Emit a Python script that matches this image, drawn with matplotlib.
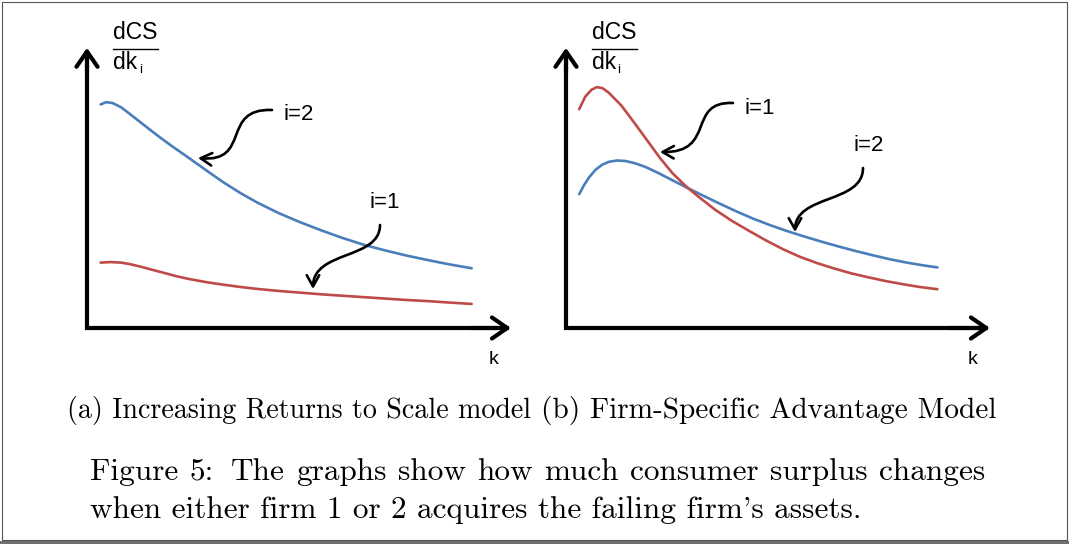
import matplotlib
matplotlib.use("Agg")
import matplotlib.pyplot as plt
from matplotlib.path import Path
from matplotlib.patches import FancyArrowPatch, Rectangle
from matplotlib.lines import Line2D

# ---------------- data ----------------
# Panel (a): Increasing Returns to Scale model
a_i2_k = [0.32, 0.45, 0.60, 0.80, 1.00, 1.22, 1.45, 1.70, 2.00, 2.40, 2.80, 3.20,
          3.60, 4.00, 4.50, 5.00, 5.50, 6.00, 6.50, 7.00, 7.50, 8.00, 8.50, 9.03]
a_i2_v = [7.90, 7.98, 7.95, 7.80, 7.57, 7.31, 7.04, 6.75, 6.42, 6.00, 5.57, 5.15,
          4.77, 4.43, 4.06, 3.74, 3.45, 3.18, 2.94, 2.74, 2.56, 2.40, 2.25, 2.11]
a_i1_k = [0.32, 0.55, 0.80, 1.00, 1.25, 1.50, 1.80, 2.10, 2.40, 2.80, 3.20, 3.60,
          4.00, 4.50, 5.00, 5.50, 6.00, 6.50, 7.00, 7.50, 8.00, 8.50, 9.03]
a_i1_v = [2.31, 2.33, 2.31, 2.26, 2.17, 2.07, 1.95, 1.83, 1.73, 1.62, 1.53, 1.45,
          1.38, 1.31, 1.25, 1.19, 1.14, 1.09, 1.04, 0.99, 0.95, 0.90, 0.85]

# Panel (b): Firm-Specific Advantage Model
b_i1_k = [0.31, 0.45, 0.60, 0.72, 0.85, 1.00, 1.30, 1.60, 1.90, 2.20, 2.50, 2.80,
          3.10, 3.50, 3.90, 4.30, 4.70, 5.10, 5.50, 5.90, 6.30, 6.70, 7.10, 7.50,
          7.90, 8.30, 8.72]
b_i1_v = [7.73, 8.17, 8.42, 8.51, 8.48, 8.32, 7.86, 7.26, 6.64, 6.02, 5.47, 5.03,
          4.65, 4.18, 3.78, 3.43, 3.09, 2.78, 2.51, 2.29, 2.10, 1.93, 1.79, 1.66,
          1.55, 1.45, 1.37]
b_i2_k = [0.31, 0.42, 0.55, 0.70, 0.85, 1.00, 1.20, 1.40, 1.60, 1.85, 2.15, 2.50,
          2.85, 3.20, 3.60, 4.00, 4.40, 4.80, 5.20, 5.60, 6.00, 6.40, 6.80, 7.20,
          7.60, 8.00, 8.40, 8.72]
b_i2_v = [4.73, 5.04, 5.34, 5.60, 5.77, 5.87, 5.92, 5.90, 5.83, 5.70, 5.49, 5.22,
          4.95, 4.69, 4.40, 4.12, 3.86, 3.63, 3.42, 3.23, 3.05, 2.88, 2.72, 2.57,
          2.43, 2.31, 2.21, 2.14]

subcaptions = ["(a) Increasing Returns to Scale model", "(b) Firm-Specific Advantage Model"]
caption_lines = ["Figure 5:  The graphs show how much consumer surplus changes",
                 "when either firm 1 or 2 acquires the failing firm's assets."]

BLUE = "#4a7ebb"
RED = "#be4b48"

# ---------------- figure ----------------
W, H = 1069, 544
fig = plt.figure(figsize=(W / 100, H / 100), dpi=100)
fig.patch.set_facecolor("white")
renderer = fig.canvas.get_renderer()


def P(x, y):
    """pixel position (from top-left) -> figure fraction"""
    return (x / W, 1 - y / H)


SANS = "Liberation Sans"
SERIF = ["cmr10", "DejaVu Serif"]


def panel(left_px, series, labels, arrows):
    ax = fig.add_axes([left_px / W, (H - 328) / H, 426 / W, 283 / H])
    ax.set_xlim(0, 10)
    ax.set_ylim(0, 10)
    ax.axis("off")
    for k, v, c in series:
        ax.plot(k, v, color=c, lw=1.9, solid_capstyle="round",
                solid_joinstyle="round", clip_on=False)
    # axes (L shape) + arrow heads
    ax.add_line(Line2D([0, 0, 9.9], [9.8, 0, 0], color="k", lw=3.0,
                       solid_joinstyle="miter", solid_capstyle="butt", clip_on=False))
    for xy, xyt in [((0, 9.9), (0, 9.0)), ((9.95, 0), (9.0, 0))]:
        ax.annotate("", xy=xy, xytext=xyt, annotation_clip=False,
                    arrowprops=dict(arrowstyle="->,head_length=0.55,head_width=0.38",
                                    lw=3.0, color="k", shrinkA=0, shrinkB=0,
                                    mutation_scale=20))
    # y label dCS / dk_i
    lx = left_px + 26
    fig.text(*P(lx, 39), "dCS", fontsize=16.5, family=SANS, ha="left", va="baseline")
    fig.add_artist(Line2D([lx / W, (lx + 45) / W], [1 - 48.5 / H, 1 - 48.5 / H],
                          color="k", lw=1.0))
    t = fig.text(*P(lx, 69), "dk", fontsize=16.5, family=SANS, ha="left", va="baseline")
    wdk = t.get_window_extent(renderer).width
    fig.text(*P(lx + wdk + 1.5, 73), "i", fontsize=9.5, family=SANS, ha="left",
             va="baseline")
    fig.text(*P(left_px + 407, 360), "k", fontsize=14, family=SANS, ha="center",
             va="center")
    for (tx, ty, s) in labels:
        fig.text(*P(tx, ty), s, fontsize=16, family=SANS, ha="center", va="center")
    for pts in arrows:
        verts = [P(*p) for p in pts]
        path = Path(verts, [Path.MOVETO, Path.CURVE4, Path.CURVE4, Path.CURVE4])
        arr = FancyArrowPatch(path=path, arrowstyle="->,head_length=0.8,head_width=0.45",
                              mutation_scale=10, lw=1.9, color="k",
                              transform=fig.transFigure)
        fig.add_artist(arr)
    return ax


panel(87,
      [(a_i2_k, a_i2_v, BLUE), (a_i1_k, a_i1_v, RED)],
      [(299, 114, "i=2"), (385, 203, "i=1")],
      [[(272, 110), (220, 108), (252, 163), (198, 158)],
       [(380, 225), (380, 260), (313, 250), (313, 289)]])

panel(566,
      [(b_i2_k, b_i2_v, BLUE), (b_i1_k, b_i1_v, RED)],
      [(760, 108, "i=1"), (869, 146, "i=2")],
      [[(733, 103), (686, 101), (717, 153), (660, 152)],
       [(863, 168), (863, 204), (795, 194), (795, 232)]])


# ---------------- captions ----------------
def justified(line, x0, x1, y, size):
    words = line.split()
    widths = []
    for w in words:
        tt = fig.text(0, 0, w, fontsize=size, family=SERIF)
        widths.append(tt.get_window_extent(renderer).width)
        tt.remove()
    # extra weight for the gap after the colon (TeX space factor)
    weights = [1.5 if words[i].endswith(":") else 1.0 for i in range(len(words) - 1)]
    gap = ((x1 - x0) - sum(widths)) / sum(weights)
    x = x0
    for i, w in enumerate(words):
        fig.text(*P(x, y), w, fontsize=size, family=SERIF, ha="left", va="baseline")
        x += widths[i] + (gap * weights[i] if i < len(weights) else 0)


fig.text(*P(67, 418), subcaptions[0], fontsize=20.2, family=SERIF, ha="left",
         va="baseline")
fig.text(*P(541, 418), subcaptions[1], fontsize=21.1, family=SERIF, ha="left",
         va="baseline")
justified(caption_lines[0], 90, 985, 480, 22.5)
fig.text(*P(90, 518), caption_lines[1], fontsize=22.5, family=SERIF, ha="left",
         va="baseline")

# ---------------- frame ----------------
fig.add_artist(Rectangle(P(1.5, 540), 1065.5 / W, 538.5 / H, transform=fig.transFigure,
                         fill=False, edgecolor="#555555", lw=0.8))
fig.add_artist(Rectangle(P(0, 544), 1.0, 3.3 / H, transform=fig.transFigure,
                         facecolor="#707070", edgecolor="none"))

fig.savefig("out.png", dpi=100)
